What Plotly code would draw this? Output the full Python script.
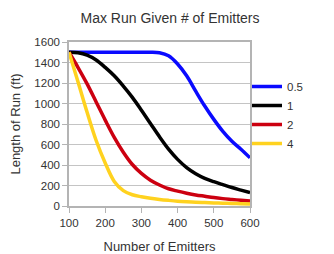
import plotly.graph_objects as go

emitters = [100, 125, 150, 175, 200, 225, 250, 275, 300, 325, 350, 375, 400,
            425, 450, 475, 500, 525, 550, 575, 600]

run_05 = [1500, 1500, 1500, 1500, 1500, 1500, 1500, 1500, 1500, 1500, 1495, 1465, 1385,
          1270, 1120, 975, 845, 728, 632, 553, 470]
run_1 = [1500, 1495, 1472, 1425, 1352, 1270, 1170, 1060, 935, 805, 675, 555, 455,
         375, 315, 270, 237, 208, 180, 155, 130]
run_2 = [1500, 1351, 1191, 1015, 838, 670, 525, 405, 318, 252, 205, 168, 145,
         125, 108, 95, 82, 72, 64, 56, 49]
run_4 = [1500, 1210, 914, 639, 420, 240, 150, 110, 90, 75, 64, 55, 47,
         41, 36, 33, 30, 27, 25, 22, 20]

series_names = ["0.5", "1", "2", "4"]
series_values = [run_05, run_1, run_2, run_4]
colors = ["#0a0aff", "#000000", "#cc0010", "#ffd21f"]

fig = go.Figure()
for name, vals, col in zip(series_names, series_values, colors):
    fig.add_trace(go.Scatter(x=emitters, y=vals, name=name, mode="lines",
                             line=dict(color=col, width=3.5, shape="spline", smoothing=1.0)))

font_family = "Liberation Sans, Arial, sans-serif"
# page body has an 8px margin, so the figure is laid out 8px up/left
fig.update_layout(
    width=334, height=254,
    margin=dict(l=61, r=92, t=34, b=56, autoexpand=False),
    paper_bgcolor="white", plot_bgcolor="white",
    font=dict(family=font_family, size=11.5, color="#333333"),
    title=dict(text="Max Run Given # of Emitters", x=162/334, xanchor="center",
               y=1 - 10/254, yanchor="middle", yref="container",
               font=dict(size=14, color="#333333")),
    showlegend=True,
    legend=dict(x=(239-61)/181, y=(198-64)/164, yanchor="top", xanchor="left",
                bgcolor="rgba(0,0,0,0)", font=dict(size=11.5, color="#333333"),
                itemwidth=30, tracegroupgap=0, traceorder="normal"),
)
fig.update_xaxes(range=[100, 600], dtick=100, tick0=100, showgrid=False, automargin=True,
                 showline=True, linecolor="#b4b4b4", linewidth=1.5, mirror=True,
                 ticks="outside", ticklen=5, tickcolor="#b4b4b4",
                 title=dict(text="Number of Emitters", font=dict(size=13), standoff=14),
                 zeroline=False)
fig.update_yaxes(range=[0, 1600], dtick=200, showgrid=True, gridcolor="#c4c4c4", gridwidth=1,
                 automargin=True,
                 showline=True, linecolor="#b4b4b4", linewidth=1.5, mirror=True,
                 ticks="outside", ticklen=5, tickcolor="#b4b4b4",
                 title=dict(text="Length of Run (ft)", font=dict(size=13), standoff=17),
                 zeroline=False)

fig.write_html("out.html")
